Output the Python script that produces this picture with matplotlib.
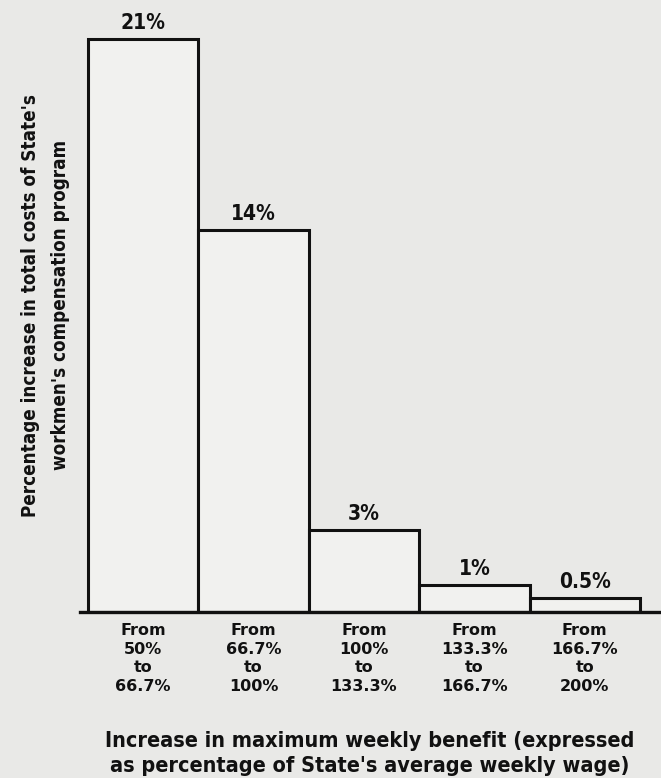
"""Workmen's compensation cost increase, step-style bar chart (scanned look)."""

import matplotlib
matplotlib.use("Agg")
import matplotlib.pyplot as plt

# ── Data ─────────────────────────────────────
ranges = [
    "From\n50%\nto\n66.7%",
    "From\n66.7%\nto\n100%",
    "From\n100%\nto\n133.3%",
    "From\n133.3%\nto\n166.7%",
    "From\n166.7%\nto\n200%",
]
increase = [21, 14, 3, 1, 0.5]
value_labels = ["21%", "14%", "3%", "1%", "0.5%"]

C_BG = "#e9e9e7"
C_BAR = "#f1f1ef"
C_INK = "#111111"
NARROW = ["DejaVu Sans"]

fig = plt.figure(figsize=(6.61, 7.78), dpi=100)
fig.patch.set_facecolor(C_BG)
ax = fig.add_axes([0.121, 0.2134, 0.879, 0.748])
ax.set_facecolor(C_BG)

x = list(range(len(increase)))
ax.bar(x, increase, width=1.0, align="edge", color=C_BAR,
       edgecolor=C_INK, linewidth=2.2, zorder=2)

for xi, v, lab in zip(x, increase, value_labels):
    ax.text(xi + 0.5, v + 0.22, lab, ha="center", va="bottom",
            fontsize=15, fontweight="bold", color=C_INK, family=NARROW,
            fontstretch="condensed")

ax.set_xlim(-0.072, 5.19)
ax.set_ylim(0, 21.33)

for side in ("top", "right", "left"):
    ax.spines[side].set_visible(False)
ax.spines["bottom"].set_linewidth(2.4)
ax.spines["bottom"].set_color(C_INK)
ax.spines["bottom"].set_zorder(3)

ax.set_yticks([])
ax.set_xticks([xi + 0.5 for xi in x])
ax.set_xticklabels(ranges, fontsize=11.5, fontweight="bold", color=C_INK,
                   linespacing=1.3)
ax.tick_params(axis="x", length=0, pad=8)

ax.set_ylabel("Percentage increase in total costs of State's\n"
              "workmen's compensation program",
              fontsize=13.5, fontweight="bold", color=C_INK, family=NARROW,
              fontstretch="condensed", linespacing=1.75)
ax.yaxis.set_label_coords(-0.017, 0.527)

fig.text(0.56, 0.031, "Increase in maximum weekly benefit (expressed\n"
         "as percentage of State's average weekly wage)",
         ha="center", va="center", fontsize=15.5, fontweight="bold",
         color=C_INK, family=NARROW, fontstretch="condensed",
         linespacing=1.3)

fig.savefig("out.png", dpi=100, facecolor=C_BG)
